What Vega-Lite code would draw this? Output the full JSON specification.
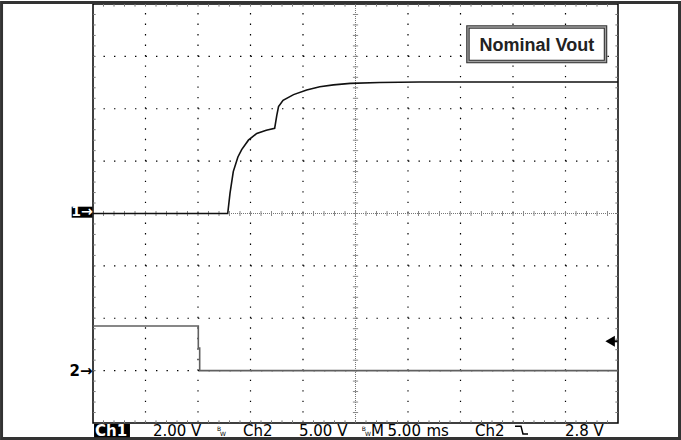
{
  "$schema": "https://vega.github.io/schema/vega-lite/v6.json",
  "width": 525,
  "height": 419,
  "autosize": {"type": "none"},
  "padding": {"left": 93, "top": 4, "right": 63, "bottom": 17},
  "background": "white",
  "config": {"view": {"stroke": "#000", "strokeWidth": 1.5}},
  "datasets": {
    "trace": [
      {"ch": "Ch1", "i": 0, "t": -25, "y": 0},
      {"ch": "Ch1", "i": 1, "t": -12.17, "y": 0},
      {"ch": "Ch1", "i": 2, "t": -11.95, "y": 0.39},
      {"ch": "Ch1", "i": 3, "t": -11.64, "y": 0.80},
      {"ch": "Ch1", "i": 4, "t": -11.2, "y": 1.08},
      {"ch": "Ch1", "i": 5, "t": -10.84, "y": 1.22},
      {"ch": "Ch1", "i": 6, "t": -10.2, "y": 1.40},
      {"ch": "Ch1", "i": 7, "t": -9.4, "y": 1.53},
      {"ch": "Ch1", "i": 8, "t": -8.5, "y": 1.59},
      {"ch": "Ch1", "i": 9, "t": -7.7, "y": 1.625},
      {"ch": "Ch1", "i": 10, "t": -7.5, "y": 1.87},
      {"ch": "Ch1", "i": 11, "t": -7.33, "y": 2.04},
      {"ch": "Ch1", "i": 12, "t": -6.9, "y": 2.16},
      {"ch": "Ch1", "i": 13, "t": -5.9, "y": 2.27},
      {"ch": "Ch1", "i": 14, "t": -4.65, "y": 2.36},
      {"ch": "Ch1", "i": 15, "t": -3.4, "y": 2.42},
      {"ch": "Ch1", "i": 16, "t": -2.1, "y": 2.455},
      {"ch": "Ch1", "i": 17, "t": -0.5, "y": 2.485},
      {"ch": "Ch1", "i": 18, "t": 2.3, "y": 2.50},
      {"ch": "Ch1", "i": 19, "t": 6.1, "y": 2.51},
      {"ch": "Ch1", "i": 20, "t": 25, "y": 2.51},
      {"ch": "Ch2", "i": 0, "t": -25, "y": -2.148},
      {"ch": "Ch2", "i": 1, "t": -14.97, "y": -2.148},
      {"ch": "Ch2", "i": 2, "t": -14.97, "y": -2.568},
      {"ch": "Ch2", "i": 3, "t": -14.84, "y": -2.568},
      {"ch": "Ch2", "i": 4, "t": -14.84, "y": -3.0},
      {"ch": "Ch2", "i": 5, "t": 25, "y": -3.0}
    ],
    "gx": [{"t": -20}, {"t": -15}, {"t": -10}, {"t": -5}, {"t": 5}, {"t": 10}, {"t": 15}, {"t": 20}],
    "gy": [{"v": -3}, {"v": -2}, {"v": -1}, {"v": 1}, {"v": 2}, {"v": 3}],
    "xt": [
      {"t": -24}, {"t": -23}, {"t": -22}, {"t": -21}, {"t": -20}, {"t": -19}, {"t": -18}, {"t": -17}, {"t": -16}, {"t": -15},
      {"t": -14}, {"t": -13}, {"t": -12}, {"t": -11}, {"t": -10}, {"t": -9}, {"t": -8}, {"t": -7}, {"t": -6}, {"t": -5},
      {"t": -4}, {"t": -3}, {"t": -2}, {"t": -1}, {"t": 0}, {"t": 1}, {"t": 2}, {"t": 3}, {"t": 4}, {"t": 5},
      {"t": 6}, {"t": 7}, {"t": 8}, {"t": 9}, {"t": 10}, {"t": 11}, {"t": 12}, {"t": 13}, {"t": 14}, {"t": 15},
      {"t": 16}, {"t": 17}, {"t": 18}, {"t": 19}, {"t": 20}, {"t": 21}, {"t": 22}, {"t": 23}, {"t": 24}
    ],
    "yt": [
      {"v": -3.8}, {"v": -3.6}, {"v": -3.4}, {"v": -3.2}, {"v": -3.0}, {"v": -2.8}, {"v": -2.6}, {"v": -2.4}, {"v": -2.2}, {"v": -2.0},
      {"v": -1.8}, {"v": -1.6}, {"v": -1.4}, {"v": -1.2}, {"v": -1.0}, {"v": -0.8}, {"v": -0.6}, {"v": -0.4}, {"v": -0.2}, {"v": 0},
      {"v": 0.2}, {"v": 0.4}, {"v": 0.6}, {"v": 0.8}, {"v": 1.0}, {"v": 1.2}, {"v": 1.4}, {"v": 1.6}, {"v": 1.8}, {"v": 2.0},
      {"v": 2.2}, {"v": 2.4}, {"v": 2.6}, {"v": 2.8}, {"v": 3.0}, {"v": 3.2}, {"v": 3.4}, {"v": 3.6}, {"v": 3.8}
    ]
  },
  "layer": [
    {
      "data": {"name": "gx"},
      "mark": {"type": "rule", "color": "#000", "strokeWidth": 1.2, "strokeDash": [1.4, 9.075]},
      "encoding": {
        "x": {"field": "t", "type": "quantitative", "scale": {"domain": [-25, 25], "nice": false, "zero": false}, "axis": null},
        "y": {"datum": -4, "scale": {"domain": [-4, 4], "nice": false, "zero": false}, "axis": null},
        "y2": {"datum": 4}
      }
    },
    {
      "data": {"name": "gy"},
      "mark": {"type": "rule", "color": "#000", "strokeWidth": 1.2, "strokeDash": [1.4, 9.1]},
      "encoding": {
        "y": {"field": "v", "type": "quantitative", "axis": null},
        "x": {"datum": -25, "axis": null},
        "x2": {"datum": 25}
      }
    },
    {
      "data": {"values": [{"k": "cx"}]},
      "mark": {"type": "rule", "color": "#777", "strokeWidth": 1, "strokeDash": [1, 1]},
      "encoding": {
        "x": {"datum": 0, "axis": null},
        "y": {"datum": -4, "axis": null},
        "y2": {"datum": 4}
      }
    },
    {
      "data": {"values": [{"k": "cy"}]},
      "mark": {"type": "rule", "color": "#777", "strokeWidth": 1, "strokeDash": [1, 1]},
      "encoding": {
        "y": {"datum": 0, "axis": null},
        "x": {"datum": -25, "axis": null},
        "x2": {"datum": 25}
      }
    },
    {
      "data": {"name": "xt"},
      "mark": {"type": "rule", "color": "#888", "strokeWidth": 1},
      "encoding": {
        "x": {"field": "t", "type": "quantitative", "axis": null},
        "y": {"datum": -0.048, "axis": null},
        "y2": {"datum": 0.048}
      }
    },
    {
      "data": {"name": "yt"},
      "mark": {"type": "rule", "color": "#888", "strokeWidth": 1},
      "encoding": {
        "y": {"field": "v", "type": "quantitative", "axis": null},
        "x": {"datum": -0.25, "axis": null},
        "x2": {"datum": 0.25}
      }
    },
    {
      "data": {"name": "yt"},
      "mark": {"type": "rule", "color": "#777", "strokeWidth": 1},
      "encoding": {
        "y": {"field": "v", "type": "quantitative", "axis": null},
        "x": {"datum": -25, "axis": null},
        "x2": {"datum": -24.75}
      }
    },
    {
      "data": {"name": "yt"},
      "mark": {"type": "rule", "color": "#777", "strokeWidth": 1},
      "encoding": {
        "y": {"field": "v", "type": "quantitative", "axis": null},
        "x": {"datum": 24.75, "axis": null},
        "x2": {"datum": 25}
      }
    },
    {
      "data": {"name": "xt"},
      "mark": {"type": "rule", "color": "#777", "strokeWidth": 1},
      "encoding": {
        "x": {"field": "t", "type": "quantitative", "axis": null},
        "y": {"datum": 4, "axis": null},
        "y2": {"datum": 3.95}
      }
    },
    {
      "data": {"name": "xt"},
      "mark": {"type": "rule", "color": "#777", "strokeWidth": 1},
      "encoding": {
        "x": {"field": "t", "type": "quantitative", "axis": null},
        "y": {"datum": -4, "axis": null},
        "y2": {"datum": -3.95}
      }
    },
    {
      "data": {"name": "trace"},
      "mark": {"type": "line", "strokeWidth": 1.6, "interpolate": "linear"},
      "encoding": {
        "x": {"field": "t", "type": "quantitative", "axis": null},
        "y": {"field": "y", "type": "quantitative", "axis": null},
        "color": {"field": "ch", "type": "nominal", "scale": {"domain": ["Ch1", "Ch2"], "range": ["#111111", "#606060"]}, "legend": null},
        "order": {"field": "i", "type": "quantitative"}
      }
    },
    {
      "data": {"values": [{"k": "frame"}]},
      "mark": {"type": "rect", "fill": null, "stroke": "#333", "strokeWidth": 3},
      "encoding": {
        "x": {"datum": -33.71, "axis": null}, "x2": {"datum": 30.86},
        "y": {"datum": 4.029, "axis": null}, "y2": {"datum": -4.296}
      }
    },
    {
      "data": {"values": [{"k": "box"}]},
      "mark": {"type": "rect", "fill": "white", "stroke": "#333", "strokeWidth": 3.5},
      "encoding": {
        "x": {"datum": 10.71, "axis": null}, "x2": {"datum": 23.81},
        "y": {"datum": 3.561, "axis": null}, "y2": {"datum": 2.902}
      }
    },
    {
      "data": {"values": [{"k": "box"}]},
      "mark": {"type": "rect", "fill": null, "stroke": "#a0a0a0", "strokeWidth": 1.3},
      "encoding": {
        "x": {"datum": 10.71, "axis": null}, "x2": {"datum": 23.81},
        "y": {"datum": 3.561, "axis": null}, "y2": {"datum": 2.902}
      }
    },
    {
      "data": {"values": [{"text": "Nominal Vout", "t": 17.27, "y": 3.108}]},
      "mark": {"type": "text", "font": "Liberation Sans", "fontWeight": "bold", "fontSize": 18, "align": "center", "baseline": "alphabetic", "color": "#222"},
      "encoding": {
        "x": {"field": "t", "type": "quantitative", "axis": null},
        "y": {"field": "y", "type": "quantitative", "axis": null},
        "text": {"field": "text"}
      }
    },
    {
      "data": {"values": [{"k": "m1"}]},
      "mark": {"type": "rect", "fill": "#000"},
      "encoding": {
        "x": {"datum": -27.03, "axis": null}, "x2": {"datum": -25.05},
        "y": {"datum": 0.13, "axis": null}, "y2": {"datum": -0.08}
      }
    },
    {
      "data": {"values": [{"text": "1→", "t": -26.05, "y": 0.025}]},
      "mark": {"type": "text", "font": "DejaVu Sans", "fontWeight": "bold", "fontSize": 14, "align": "center", "baseline": "middle", "color": "white"},
      "encoding": {
        "x": {"field": "t", "type": "quantitative", "axis": null},
        "y": {"field": "y", "type": "quantitative", "axis": null},
        "text": {"field": "text"}
      }
    },
    {
      "data": {"values": [{"text": "2→", "t": -25.05, "y": -3.0}]},
      "mark": {"type": "text", "font": "DejaVu Sans", "fontWeight": "bold", "fontSize": 15, "align": "right", "baseline": "middle", "color": "#000"},
      "encoding": {
        "x": {"field": "t", "type": "quantitative", "axis": null},
        "y": {"field": "y", "type": "quantitative", "axis": null},
        "text": {"field": "text"}
      }
    },
    {
      "data": {"values": [{"k": "trig"}]},
      "mark": {"type": "rule", "color": "#000", "strokeWidth": 2},
      "encoding": {
        "x": {"datum": 24.3, "axis": null}, "x2": {"datum": 24.95},
        "y": {"datum": -2.44, "axis": null}
      }
    },
    {
      "data": {"values": [{"t": 24.25, "y": -2.44}]},
      "mark": {"type": "point", "shape": "triangle-left", "filled": true, "color": "#000", "size": 120, "opacity": 1},
      "encoding": {
        "x": {"field": "t", "type": "quantitative", "axis": null},
        "y": {"field": "y", "type": "quantitative", "axis": null}
      }
    },
    {
      "data": {"values": [{"k": "ch1box"}]},
      "mark": {"type": "rect", "fill": "#000"},
      "encoding": {
        "x": {"datum": -24.9, "axis": null}, "x2": {"datum": -21.48},
        "y": {"datum": -4.019, "axis": null}, "y2": {"datum": -4.27}
      }
    },
    {
      "data": {"values": [{"text": "Ch1", "t": -24.8, "y": -4.239}]},
      "mark": {"type": "text", "font": "DejaVu Sans", "fontWeight": "bold", "fontSize": 15, "align": "left", "baseline": "alphabetic", "color": "white"},
      "encoding": {
        "x": {"field": "t", "type": "quantitative", "axis": null},
        "y": {"field": "y", "type": "quantitative", "axis": null},
        "text": {"field": "text"}
      }
    },
    {
      "data": {"values": [
        {"text": "2.00 V", "t": -19.29, "y": -4.239},
        {"text": "Ch2", "t": -10.71, "y": -4.239},
        {"text": "5.00 V", "t": -5.38, "y": -4.239},
        {"text": "M", "t": 1.48, "y": -4.239},
        {"text": "5.00", "t": 3.05, "y": -4.239},
        {"text": "ms", "t": 6.75, "y": -4.239},
        {"text": "Ch2", "t": 11.38, "y": -4.239},
        {"text": "2.8 V", "t": 19.95, "y": -4.239}
      ]},
      "mark": {"type": "text", "font": "DejaVu Sans", "fontSize": 15, "align": "left", "baseline": "alphabetic", "color": "#000"},
      "encoding": {
        "x": {"field": "t", "type": "quantitative", "axis": null},
        "y": {"field": "y", "type": "quantitative", "axis": null},
        "text": {"field": "text"}
      }
    },
    {
      "data": {"values": [
        {"text": "B", "t": -13.2, "y": -4.16},
        {"text": "B", "t": 0.6, "y": -4.16}
      ]},
      "mark": {"type": "text", "font": "DejaVu Sans", "fontSize": 6, "align": "left", "baseline": "alphabetic", "color": "#000"},
      "encoding": {
        "x": {"field": "t", "type": "quantitative", "axis": null},
        "y": {"field": "y", "type": "quantitative", "axis": null},
        "text": {"field": "text"}
      }
    },
    {
      "data": {"values": [
        {"text": "W", "t": -12.9, "y": -4.24},
        {"text": "W", "t": 0.9, "y": -4.24}
      ]},
      "mark": {"type": "text", "font": "DejaVu Sans", "fontSize": 6, "align": "left", "baseline": "alphabetic", "color": "#000"},
      "encoding": {
        "x": {"field": "t", "type": "quantitative", "axis": null},
        "y": {"field": "y", "type": "quantitative", "axis": null},
        "text": {"field": "text"}
      }
    },
    {
      "data": {"values": [
        {"i": 0, "t": 15.19, "y": -4.06},
        {"i": 1, "t": 15.76, "y": -4.06},
        {"i": 2, "t": 15.95, "y": -4.21},
        {"i": 3, "t": 16.43, "y": -4.21}
      ]},
      "mark": {"type": "line", "color": "#000", "strokeWidth": 1.5},
      "encoding": {
        "x": {"field": "t", "type": "quantitative", "axis": null},
        "y": {"field": "y", "type": "quantitative", "axis": null},
        "order": {"field": "i", "type": "quantitative"}
      }
    }
  ]
}
